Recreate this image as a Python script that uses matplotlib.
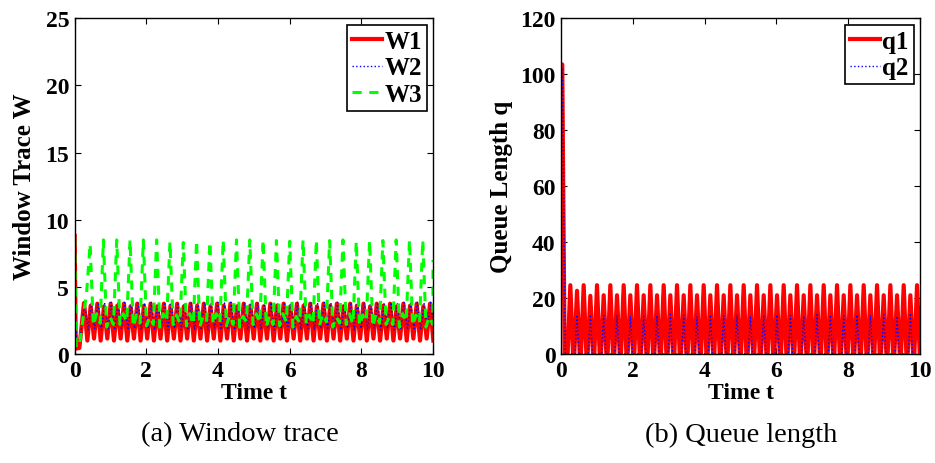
import numpy as np
import matplotlib.pyplot as plt

# period of the fast oscillation (s) and first peak time
period = 0.1857
t_first = 0.26
n_cyc = 53

# queue 1 peak heights, one per cycle
q1_peak = [24.6, 22.6, 24.6, 20.8, 24.6, 21.0, 24.6, 21.0, 24.6, 21.0,
           24.6, 21.0, 24.6, 21.0, 24.6, 21.0, 24.6, 21.0, 24.6, 21.0,
           24.6, 21.0, 24.6, 21.0, 24.6, 21.0, 24.6, 21.0, 24.6, 21.0,
           24.6, 21.0, 24.6, 21.0, 24.6, 21.0, 24.6, 21.0, 24.6, 21.0,
           24.6, 21.0, 24.6, 21.0, 24.6, 21.0, 24.6, 21.0, 24.6, 21.0,
           24.6, 21.0, 24.6]
# queue 2 peaks (on every second cycle)
q2_peak = [13.4, 14.1, 13.8, 14.0, 13.6, 14.0, 13.8, 14.2, 13.9, 13.5,
           14.0, 13.7, 14.1, 13.6, 13.9, 14.0, 13.8, 13.6, 14.1, 13.9,
           13.7, 14.0, 13.8, 14.1, 13.6, 14.0]

# window 1 peaks / troughs
w1_peak = [3.8, 3.6, 3.75, 3.55, 3.75, 3.6, 3.75, 3.55, 3.75, 3.6,
           3.75, 3.55, 3.75, 3.6, 3.75, 3.55, 3.75, 3.6, 3.75, 3.55,
           3.75, 3.6, 3.75, 3.55, 3.75, 3.6, 3.75, 3.55, 3.75, 3.6,
           3.75, 3.55, 3.75, 3.6, 3.75, 3.55, 3.75, 3.6, 3.75, 3.55,
           3.75, 3.6, 3.75, 3.55, 3.75, 3.6, 3.75, 3.55, 3.75, 3.6,
           3.75, 3.55, 3.75]
w1_low = [1.0, 1.15, 1.0, 1.15, 1.0, 1.15, 1.0, 1.15, 1.0, 1.15,
          1.0, 1.15, 1.0, 1.15, 1.0, 1.15, 1.0, 1.15, 1.0, 1.15,
          1.0, 1.15, 1.0, 1.15, 1.0, 1.15, 1.0, 1.15, 1.0, 1.15,
          1.0, 1.15, 1.0, 1.15, 1.0, 1.15, 1.0, 1.15, 1.0, 1.15,
          1.0, 1.15, 1.0, 1.15, 1.0, 1.15, 1.0, 1.15, 1.0, 1.15,
          1.0, 1.15, 1.0]
# window 2 peaks / troughs
w2_peak = [3.85, 3.8, 3.85, 3.75, 3.85, 3.8, 3.85, 3.75, 3.85, 3.8,
           3.85, 3.75, 3.85, 3.8, 3.85, 3.75, 3.85, 3.8, 3.85, 3.75,
           3.85, 3.8, 3.85, 3.75, 3.85, 3.8, 3.85, 3.75, 3.85, 3.8,
           3.85, 3.75, 3.85, 3.8, 3.85, 3.75, 3.85, 3.8, 3.85, 3.75,
           3.85, 3.8, 3.85, 3.75, 3.85, 3.8, 3.85, 3.75, 3.85, 3.8,
           3.85, 3.75, 3.85]
w2_low = [1.8, 1.9, 1.8, 1.9, 1.8, 1.9, 1.8, 1.9, 1.8, 1.9,
          1.8, 1.9, 1.8, 1.9, 1.8, 1.9, 1.8, 1.9, 1.8, 1.9,
          1.8, 1.9, 1.8, 1.9, 1.8, 1.9, 1.8, 1.9, 1.8, 1.9,
          1.8, 1.9, 1.8, 1.9, 1.8, 1.9, 1.8, 1.9, 1.8, 1.9,
          1.8, 1.9, 1.8, 1.9, 1.8, 1.9, 1.8, 1.9, 1.8, 1.9,
          1.8, 1.9, 1.8]

# window 3: slow oscillation, two fast periods long
w3_first = 0.43
w3_peak = [8.2, 8.5, 8.5, 8.5, 8.5, 8.5, 8.35, 8.3, 8.45, 8.35,
           8.5, 8.5, 8.5, 8.5, 8.45, 8.4, 8.5, 8.5, 8.45, 8.5,
           8.4, 8.45, 8.45, 8.5, 8.5, 8.5]
w3_low1 = [2.1, 2.0, 2.2, 2.0, 2.1, 2.0, 2.2, 2.1, 2.0, 2.2,
           2.1, 2.0, 2.2, 2.0, 2.1, 2.0, 2.2, 2.1, 2.0, 2.2,
           2.1, 2.0, 2.2, 2.0, 2.1, 2.0]
w3_mid = [3.0, 2.8, 3.0, 2.9, 2.8, 3.0, 2.9, 3.0, 2.8, 3.0,
          2.9, 2.8, 3.0, 2.9, 3.0, 2.8, 2.9, 3.0, 2.8, 3.0,
          2.9, 3.0, 2.8, 3.0, 2.9, 2.8]
w3_low2 = [2.3, 2.2, 2.4, 2.3, 2.2, 2.4, 2.3, 2.2, 2.4, 2.3,
           2.2, 2.4, 2.3, 2.2, 2.4, 2.3, 2.2, 2.4, 2.3, 2.2,
           2.4, 2.3, 2.2, 2.4, 2.3, 2.2]

t_pk = t_first + period * np.arange(n_cyc)
t_w3 = w3_first + 2 * period * np.arange(len(w3_peak))


def spikes(t0, tk, hk, half):
    # narrow spikes sitting on zero after an initial drop
    t, y = list(t0[0]), list(t0[1])
    for a, h in zip(tk, hk):
        t += [a - half, a, a + half]
        y += [0, h, 0]
    return np.array(t), np.array(y)


def zigzag(t0, tk, hk, lk, shift=0.0):
    t, y = list(t0[0]), list(t0[1])
    for a, h, l in zip(tk, hk, lk):
        t += [a + shift, a + shift + period / 2]
        y += [h, l]
    return np.array(t), np.array(y)


tq1, q1 = spikes(([0, 0.035, 0.10], [103, 103.5, 0]), t_pk, q1_peak, 0.075)
tq2, q2 = spikes(([0, 0.04, 0.12], [102, 102.5, 0]), t_pk[1::2], q2_peak, 0.06)

tw1, w1 = zigzag(([0, 0.03, 0.13], [8.8, 0.4, 0.45]), t_pk, w1_peak, w1_low)
tw2, w2 = zigzag(([0, 0.02, 0.06, 0.15], [20.3, 3.0, 1.0, 1.1]), t_pk, w2_peak, w2_low, 0.02)

tw3, w3 = [0, 0.04, 0.13, 0.25, 0.33], [8.7, 0.5, 0.6, 3.0, 4.5]
for i, (a, h) in enumerate(zip(t_w3, w3_peak)):
    tw3 += [a, a + 0.09, a + 0.18, a + 0.28]
    w3 += [h, w3_low1[i], w3_mid[i], w3_low2[i]]
tw3 += [10.0]
w3 += [7.0]
tw3, w3 = np.array(tw3), np.array(w3)
keep = tw3 <= 10.0
tw3, w3 = tw3[keep], w3[keep]

plt.rcParams['font.family'] = ['Liberation Serif', 'DejaVu Serif']
fig = plt.figure(figsize=(9.35, 4.64), dpi=100)
ax1 = fig.add_axes([0.0799, 0.2349, 0.3832, 0.7235])
ax2 = fig.add_axes([0.6, 0.2349, 0.384, 0.7235])

ax1.plot(tw1, w1, color='red', lw=3.0, label='W1')
ax1.plot(tw2, w2, color='blue', lw=1.0, ls=':', label='W2')
ax1.plot(tw3, w3, color='#00ff00', lw=2.2, ls=(0, (3, 2.5)), label='W3')
ax1.set_xlim(0, 10)
ax1.set_ylim(0, 25)
ax1.set_yticks([0, 5, 10, 15, 20, 25])
ax1.set_xlabel('Time t', fontsize=17, fontweight='bold', labelpad=1)
ax1.set_ylabel('Window Trace W', fontsize=18, fontweight='bold', labelpad=7)

ax2.plot(tq1, q1, color='red', lw=3.0, label='q1')
ax2.plot(tq2, q2, color='blue', lw=1.0, ls=':', label='q2')
ax2.set_xlim(0, 10)
ax2.set_ylim(0, 120)
ax2.set_yticks([0, 20, 40, 60, 80, 100, 120])
ax2.set_xlabel('Time t', fontsize=17, fontweight='bold', labelpad=1)
ax2.set_ylabel('Queue Length q', fontsize=18, fontweight='bold', labelpad=5)

for ax in (ax1, ax2):
    ax.set_xticks([0, 2, 4, 6, 8, 10])
    ax.tick_params(direction='in', top=True, right=True, length=4, width=0.8,
                   labelsize=17, pad=4)
    for lab in ax.get_xticklabels() + ax.get_yticklabels():
        lab.set_fontweight('bold')
    for s in ax.spines.values():
        s.set_linewidth(1.0)
    leg = ax.legend(loc='upper right', fancybox=False, framealpha=1,
                    edgecolor='black', handlelength=1.2, handletextpad=0.1,
                    borderpad=0.2, labelspacing=0.15, borderaxespad=0.25,
                    prop={'weight': 'bold', 'size': 18})
    leg.get_frame().set_linewidth(1.2)

fig.text(240 / 935, 1 - 435 / 464, '(a) Window trace', ha='center', va='center', fontsize=20.5)
fig.text(741 / 935, 1 - 435 / 464, '(b) Queue length', ha='center', va='center', fontsize=20.5)

fig.savefig('out.png', dpi=100)
